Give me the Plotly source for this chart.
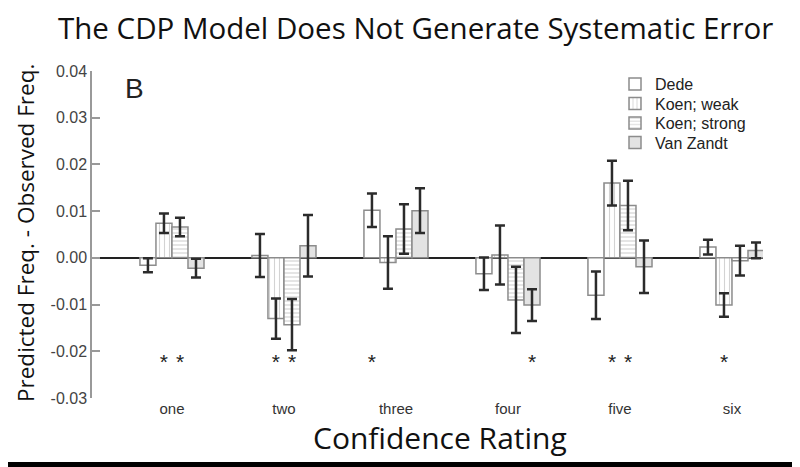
import plotly.graph_objects as go

categories = ["one", "two", "three", "four", "five", "six"]
series = ["Dede", "Koen; weak", "Koen; strong", "Van Zandt"]

dede = [-0.0016, 0.0005, 0.0102, -0.0034, -0.0080, 0.0023]
dede_err = [0.0015, 0.0046, 0.0036, 0.0035, 0.0051, 0.0016]
koen_weak = [0.0074, -0.0130, -0.0010, 0.0006, 0.0160, -0.0101]
koen_weak_err = [0.0021, 0.0043, 0.0056, 0.0063, 0.0048, 0.0025]
koen_strong = [0.0066, -0.0143, 0.0062, -0.0090, 0.0112, -0.0006]
koen_strong_err = [0.0020, 0.0055, 0.0053, 0.0071, 0.0053, 0.0032]
van_zandt = [-0.0022, 0.0026, 0.0101, -0.0101, -0.0019, 0.0016]
van_zandt_err = [0.0020, 0.0066, 0.0048, 0.0034, 0.0056, 0.0017]

y_tick_vals = [-0.03, -0.02, -0.01, 0.0, 0.01, 0.02, 0.03, 0.04]
y_tick_text = ["-0.03", "-0.02", "-0.01", "0.00", "0.01", "0.02", "0.03", "0.04"]

# significance markers: (category index, series index)
significant = [(0, 1), (0, 2), (1, 1), (1, 2), (2, 0), (3, 3), (4, 1), (4, 2), (5, 1)]
star_level = -0.0226

values = [dede, koen_weak, koen_strong, van_zandt]
errors = [dede_err, koen_weak_err, koen_strong_err, van_zandt_err]

# ---- layout geometry (figure pixel coordinates) ----
W, H = 792, 459
L, R, T, B = 84, 37, 63, 69
PW, PH = W - L - R, H - T - B


def px_x(x):
    return (x - L) / PW


def px_y(y):
    return 1 - (y - T) / PH


bar_w = 0.143
offsets = [-2 * bar_w, -bar_w, 0.0, bar_w]
fills = ["white", "white", "white", "#e3e3e3"]
patterns = [
    dict(shape=""),
    dict(shape="|", fgcolor="#a8a8a8", bgcolor="white", size=5, solidity=0.22),
    dict(shape="-", fgcolor="#a8a8a8", bgcolor="white", size=4, solidity=0.3),
    dict(shape=""),
]
legend_ids = ["legend", "legend2", "legend3", "legend4"]
legend_rows = [76, 95.5, 115, 134.5]

xs = list(range(len(categories)))
fig = go.Figure()
for k, name in enumerate(series):
    fig.add_trace(go.Bar(
        x=xs, y=values[k], name=name,
        width=bar_w, offset=offsets[k],
        legend=legend_ids[k],
        marker=dict(color=fills[k], line=dict(color="#8c8c8c", width=1.5),
                    pattern=patterns[k]),
        error_y=dict(type="data", array=errors[k], visible=True,
                     color="#2b2b2b", thickness=2.5, width=5),
    ))

sx = [c + offsets[s] + bar_w / 2 for c, s in significant]
sy = [star_level] * len(significant)
fig.add_trace(go.Scatter(
    x=sx, y=sy, mode="text", text=["*"] * len(sx),
    textfont=dict(family="Arial", size=21, color="#222"),
    textposition="middle center", showlegend=False, hoverinfo="skip",
))

legend_common = dict(xanchor="left", yanchor="middle",
                     font=dict(family="Arial", size=16, color="#222"),
                     bgcolor="rgba(0,0,0,0)", borderwidth=0)
layout_legends = {}
for lid, row in zip(legend_ids, legend_rows):
    layout_legends[lid] = dict(x=px_x(607), y=px_y(row), **legend_common)

fig.update_layout(
    width=W, height=H,
    margin=dict(l=L, r=R, t=T, b=B),
    paper_bgcolor="white", plot_bgcolor="white",
    barmode="overlay",
    showlegend=True,
    xaxis=dict(range=[-0.714, 5.277], tickvals=xs, ticktext=categories,
               showline=False, ticks="", showgrid=False, zeroline=False,
               tickfont=dict(family="Arial", size=15, color="#333")),
    yaxis=dict(range=[-0.03, 0.04], tickvals=y_tick_vals, ticktext=y_tick_text,
               showline=True, linecolor="#999", linewidth=1.5,
               ticks="inside", ticklen=8, tickcolor="#999", tickwidth=1.5,
               showgrid=False, zeroline=True, zerolinecolor="#222",
               zerolinewidth=2,
               tickfont=dict(family="Arial", size=16, color="#444")),
    **layout_legends,
)

# titles
fig.add_annotation(text="The CDP Model Does Not Generate Systematic Error",
                   xref="paper", yref="paper", x=px_x(407), y=px_y(19.5),
                   showarrow=False, xanchor="center", yanchor="middle",
                   font=dict(family="Open Sans", size=29.5, color="#111"))
fig.add_annotation(text="Confidence Rating",
                   xref="paper", yref="paper", x=px_x(432), y=px_y(429),
                   showarrow=False, xanchor="center", yanchor="middle",
                   font=dict(family="Open Sans", size=30, color="#111"))
fig.add_annotation(text="Predicted Freq. - Observed Freq.",
                   xref="paper", yref="paper", x=px_x(17), y=px_y(225),
                   showarrow=False, xanchor="center", yanchor="middle",
                   textangle=-90,
                   font=dict(family="Open Sans", size=22.5, color="#111"))
fig.add_annotation(text="B", xref="paper", yref="paper",
                   x=px_x(126), y=px_y(80),
                   showarrow=False, xanchor="center", yanchor="middle",
                   font=dict(family="Arial", size=28, color="#222"))

# black frame (right and bottom edges visible in the page)
fig.add_shape(type="line", xref="paper", yref="paper",
              x0=px_x(788.5), x1=px_x(788.5), y0=px_y(H), y1=px_y(0),
              line=dict(color="black", width=7), layer="above")
fig.add_shape(type="line", xref="paper", yref="paper",
              x0=px_x(0), x1=px_x(W), y0=px_y(456.5), y1=px_y(456.5),
              line=dict(color="black", width=5), layer="above")

fig.write_html("out.html")
